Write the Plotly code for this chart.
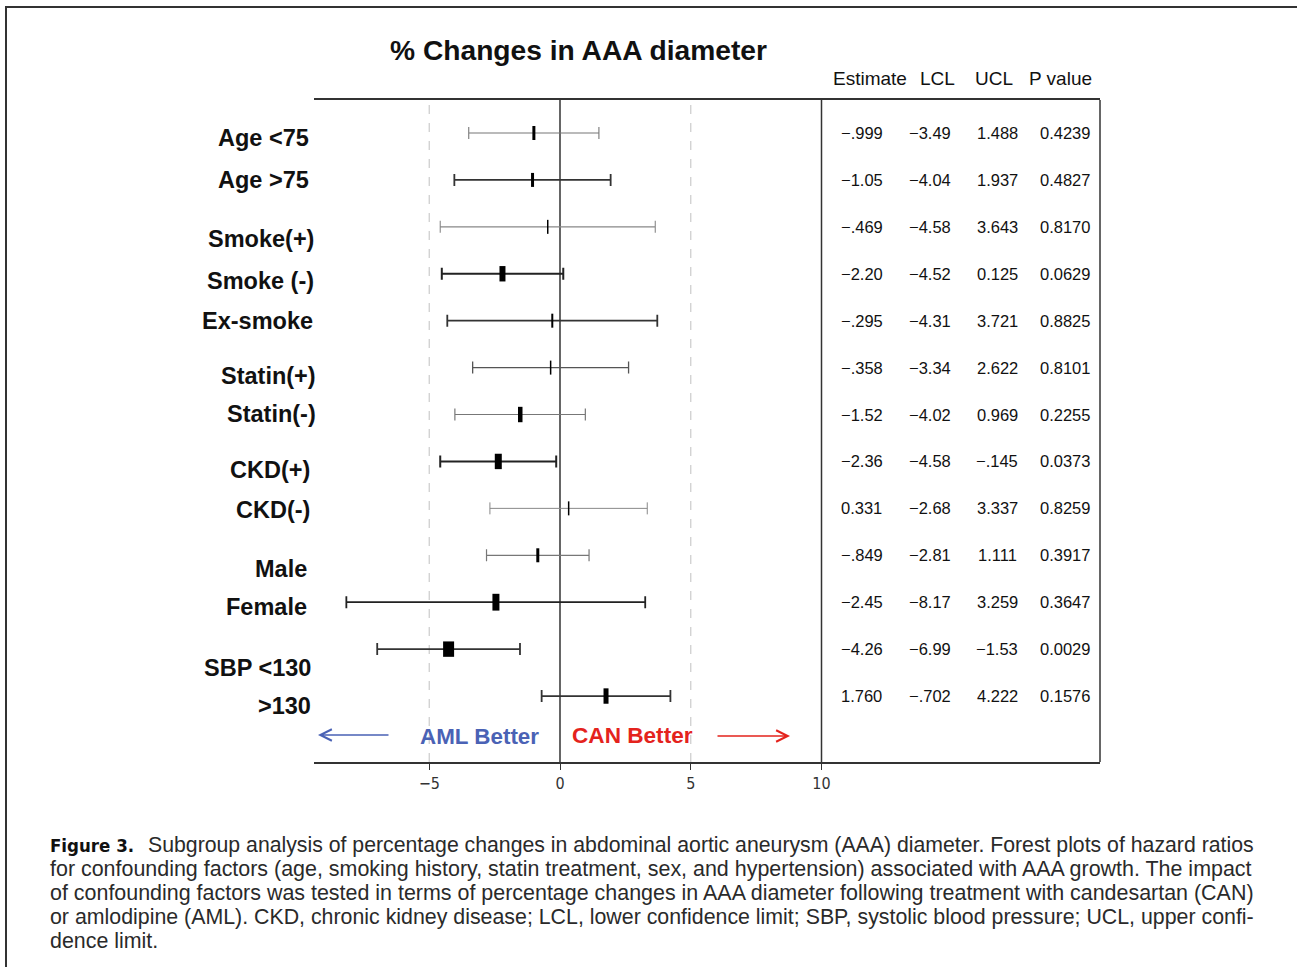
import plotly.graph_objects as go

W, H = 1297, 967

# ---------------- data ----------------
labels = ["Age <75", "Age >75", "Smoke(+)", "Smoke (-)", "Ex-smoke", "Statin(+)", "Statin(-)",
          "CKD(+)", "CKD(-)", "Male", "Female", "SBP <130", ">130"]
estimate = [-0.999, -1.05, -0.469, -2.20, -0.295, -0.358, -1.52, -2.36, 0.331, -0.849, -2.45, -4.26, 1.760]
lcl = [-3.49, -4.04, -4.58, -4.52, -4.31, -3.34, -4.02, -4.58, -2.68, -2.81, -8.17, -6.99, -0.702]
ucl = [1.488, 1.937, 3.643, 0.125, 3.721, 2.622, 0.969, -0.145, 3.337, 1.111, 3.259, -1.53, 4.222]
estimate_txt = ["\u2212.999", "\u22121.05", "\u2212.469", "\u22122.20", "\u2212.295", "\u2212.358", "\u22121.52",
                "\u22122.36", "0.331", "\u2212.849", "\u22122.45", "\u22124.26", "1.760"]
lcl_txt = ["\u22123.49", "\u22124.04", "\u22124.58", "\u22124.52", "\u22124.31", "\u22123.34", "\u22124.02",
           "\u22124.58", "\u22122.68", "\u22122.81", "\u22128.17", "\u22126.99", "\u2212.702"]
ucl_txt = ["1.488", "1.937", "3.643", "0.125", "3.721", "2.622", "0.969", "\u2212.145", "3.337", "1.111",
           "3.259", "\u22121.53", "4.222"]
p_txt = ["0.4239", "0.4827", "0.8170", "0.0629", "0.8825", "0.8101", "0.2255", "0.0373", "0.8259",
         "0.3917", "0.3647", "0.0029", "0.1576"]
table_headers = ["Estimate", "LCL", "UCL", "P value"]
x_ticks = [-5, 0, 5, 10]
x_ticktext = ["\u22125", "0", "5", "10"]

title_text = "% Changes in AAA diameter"
caption_lead = "Figure 3."
caption_lines = [
    "Subgroup analysis of percentage changes in abdominal aortic aneurysm (AAA) diameter. Forest plots of hazard ratios",
    "for confounding factors (age, smoking history, statin treatment, sex, and hypertension) associated with AAA growth. The impact",
    "of confounding factors was tested in terms of percentage changes in AAA diameter following treatment with candesartan (CAN)",
    "or amlodipine (AML). CKD, chronic kidney disease; LCL, lower confidence limit; SBP, systolic blood pressure; UCL, upper confi-",
    "dence limit.",
]

# ---------------- styles ----------------
marker_h = [10, 10, 10, 11, 10, 10, 11, 11, 10, 10, 12, 11, 11]
marker_w = [3, 3, 1.5, 6, 2, 1.5, 4.5, 7, 1.5, 3, 7, 11, 5]
line_w = [1.1, 1.8, 1.1, 2.0, 1.8, 1.3, 1.2, 2.0, 1.0, 1.2, 1.8, 1.8, 1.8]
line_c = ["#777", "#333", "#888", "#222", "#333", "#555", "#777", "#222", "#888", "#777", "#222", "#333", "#333"]
label_dy = [5, 0, 12, 7, 0, 8, -1, 9, 2, 14, 5, 19, 10]        # px offset of label from row
label_right = [311, 311, 316, 316, 315, 318, 318, 312, 312, 309, 309, 313, 313]
col_x = [862, 930, 997, 1065]
head_x = [870, 938, 994, 1060]
caption_x = [148, 50, 50, 50, 50]
caption_size = [21.25, 21.45, 21.45, 21.35, 21.4]

def px(x):
    return x / W

def py(y):
    return 1 - y / H

# plot geometry
x_left, x_right = 314, 1100
y_top, y_bot = 100, 762
x0_px, unit = 560, 26.15
row0_px, row_step = 133, 46.92
n = len(labels)
xr = [(x_left - x0_px) / unit, (x_right - x0_px) / unit]
yr = [(y_bot - row0_px) / row_step, (y_top - row0_px) / row_step]

fig = go.Figure()

for i in range(n):
    fig.add_trace(go.Scatter(
        x=[estimate[i]], y=[i], mode="markers",
        marker=dict(symbol="line-ns", size=marker_h[i], color="black",
                    line=dict(width=marker_w[i], color="black")),
        error_x=dict(type="data", symmetric=False,
                     array=[ucl[i] - estimate[i]], arrayminus=[estimate[i] - lcl[i]],
                     thickness=line_w[i], width=6, color=line_c[i]),
        showlegend=False, hoverinfo="skip", cliponaxis=False))

shapes = []
# reference lines
for xv, dash, col, wd in [(-5, "dash", "#cfcfcf", 1.3), (5, "dash", "#cfcfcf", 1.3), (0, "solid", "#555", 1.8)]:
    shapes.append(dict(type="line", xref="x", yref="y domain", x0=xv, x1=xv, y0=0, y1=1,
                       line=dict(color=col, width=wd, dash=dash), layer="below"))
# table box lines
shapes.append(dict(type="line", xref="x", yref="y domain", x0=10, x1=10, y0=0, y1=1,
                   line=dict(color="#333", width=1.5)))
shapes.append(dict(type="line", xref="x domain", yref="y domain", x0=1, x1=1, y0=0, y1=1,
                   line=dict(color="#333", width=1.5)))
# outer figure frame
shapes.append(dict(type="line", xref="paper", yref="paper", x0=px(5), x1=px(1297), y0=py(7), y1=py(7),
                   line=dict(color="#333", width=2)))
shapes.append(dict(type="line", xref="paper", yref="paper", x0=px(6), x1=px(6), y0=py(7), y1=py(967),
                   line=dict(color="#333", width=2)))

ann = []
SANS = "Liberation Sans, Arial, Helvetica, sans-serif"
COND = "DejaVu Sans Condensed, Liberation Sans, sans-serif"

ann.append(dict(text="<b>" + title_text + "</b>", xref="paper", yref="paper", x=px(578), y=py(50),
                showarrow=False, font=dict(size=28.2, family=SANS, color="#111"), xanchor="center", yanchor="middle"))

for i in range(n):
    ann.append(dict(text="<b>" + labels[i] + "</b>", xref="paper", yref="paper",
                    x=px(label_right[i]), y=py(row0_px + i * row_step + label_dy[i]),
                    showarrow=False, xanchor="right", yanchor="middle",
                    font=dict(size=23.5, family=SANS, color="#111")))
    for cx, txt in zip(col_x, [estimate_txt[i], lcl_txt[i], ucl_txt[i], p_txt[i]]):
        ann.append(dict(text=txt, xref="paper", yref="y", x=px(cx), y=i, showarrow=False,
                        xanchor="center", yanchor="middle",
                        font=dict(size=16.5, family=SANS, color="#111")))

for hx, ht in zip(head_x, table_headers):
    ann.append(dict(text=ht, xref="paper", yref="paper", x=px(hx), y=py(78), showarrow=False,
                    xanchor="center", yanchor="middle", font=dict(size=19, family=SANS, color="#111")))

# better labels and arrows
ann.append(dict(text="<b>AML Better</b>", xref="paper", yref="paper", x=px(479), y=py(736), showarrow=False,
                xanchor="center", yanchor="middle", font=dict(size=22.4, family=SANS, color="#4a62b5")))
ann.append(dict(text="<b>CAN Better</b>", xref="paper", yref="paper", x=px(632), y=py(735), showarrow=False,
                xanchor="center", yanchor="middle", font=dict(size=22.6, family=SANS, color="#e4231d")))
ann.append(dict(text="", xref="paper", yref="paper", x=px(318), y=py(735), ax=72, ay=0,
                axref="pixel", ayref="pixel", showarrow=True, arrowhead=5, arrowsize=1.6,
                arrowwidth=1.4, arrowcolor="#4a62b5"))
ann.append(dict(text="", xref="paper", yref="paper", x=px(790), y=py(736), ax=-74, ay=0,
                axref="pixel", ayref="pixel", showarrow=True, arrowhead=5, arrowsize=1.6,
                arrowwidth=1.4, arrowcolor="#e4231d"))

# caption
ann.append(dict(text="<b>" + caption_lead + "</b>", xref="paper", yref="paper", x=px(48), y=py(845),
                showarrow=False, xanchor="left", yanchor="middle",
                font=dict(size=18.5, family=COND, color="#111")))
for k, line in enumerate(caption_lines):
    ann.append(dict(text=line, xref="paper", yref="paper", x=px(caption_x[k] - 2), y=py(845 + 24 * k),
                    showarrow=False, xanchor="left", yanchor="middle",
                    font=dict(size=caption_size[k], family=SANS, color="#2a2a2a")))

fig.update_layout(
    width=W, height=H, autosize=False,
    margin=dict(l=0, r=0, t=0, b=0),
    paper_bgcolor="white", plot_bgcolor="white",
    font=dict(family=SANS, color="#111"),
    xaxis=dict(domain=[px(x_left), px(x_right)], range=xr, tickvals=x_ticks, ticktext=x_ticktext,
               showgrid=False, zeroline=False, showline=True, mirror=True, linecolor="#333", linewidth=2,
               ticks="outside", ticklen=6, tickcolor="#333", tickwidth=1,
               tickfont=dict(size=16, family=COND, color="#333"), fixedrange=True),
    yaxis=dict(domain=[py(y_bot), py(y_top)], range=yr, visible=False, showgrid=False, zeroline=False,
               fixedrange=True),
    shapes=shapes, annotations=ann,
)

fig.write_html("out.html", config={"displayModeBar": False},
               post_script="document.body.style.margin='0px';document.body.style.overflow='hidden';")
